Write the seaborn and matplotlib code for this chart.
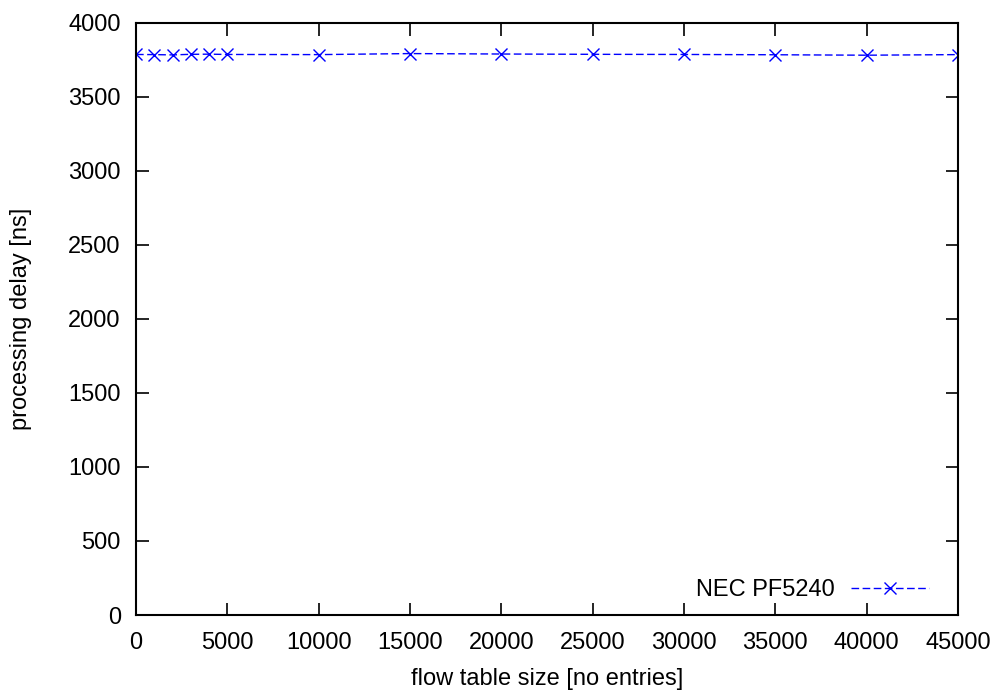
import matplotlib
matplotlib.use("Agg")
import matplotlib.pyplot as plt
import seaborn as sns

# flow table size vs processing delay
table_size = [0, 1000, 2000, 3000, 4000, 5000, 10000, 15000, 20000,
              25000, 30000, 35000, 40000, 45000]
delay_ns = [3787, 3786, 3784, 3788, 3789, 3787, 3786, 3793, 3790,
            3788, 3787, 3785, 3782, 3786]
series_name = "NEC PF5240"

FS = 17

sns.set_style("ticks")
plt.rcParams["font.family"] = ["Liberation Sans", "DejaVu Sans"]
plt.rcParams["font.size"] = FS
plt.rcParams["text.color"] = "black"
plt.rcParams["axes.labelcolor"] = "black"

fig = plt.figure(figsize=(10.01, 6.95), dpi=100)
ax = fig.add_axes([0.1359, 0.1151, 0.957 - 0.1359, 0.967 - 0.1151])

sns.lineplot(x=table_size, y=delay_ns, ax=ax, color="#0000ff",
             linestyle=(0, (5.5, 2.5)), linewidth=1.0, marker="x",
             markersize=8.5, markeredgewidth=1.0, markeredgecolor="#0000ff",
             label=series_name)

ax.set_xlim(0, 45000)
ax.set_ylim(0, 4000)
ax.set_xticks(range(0, 45001, 5000))
ax.set_yticks(range(0, 4001, 500))
ax.tick_params(direction="in", length=9, width=1.2, top=True, right=True,
               labelsize=FS, colors="black")
ax.tick_params(axis="x", pad=12)
ax.tick_params(axis="y", pad=11)
for s in ax.spines.values():
    s.set_linewidth(1.5)
    s.set_color("black")

ax.set_xlabel("flow table size [no entries]", fontsize=FS, labelpad=10)
ax.set_ylabel("processing delay [ns]", fontsize=FS, labelpad=26)

ax.legend(loc="lower right", bbox_to_anchor=(0.985, -0.005), frameon=False,
          markerfirst=False, handlelength=3.3, fontsize=FS,
          borderaxespad=0.3, labelcolor="black", handletextpad=0.7)

fig.savefig("out.png", dpi=100)
